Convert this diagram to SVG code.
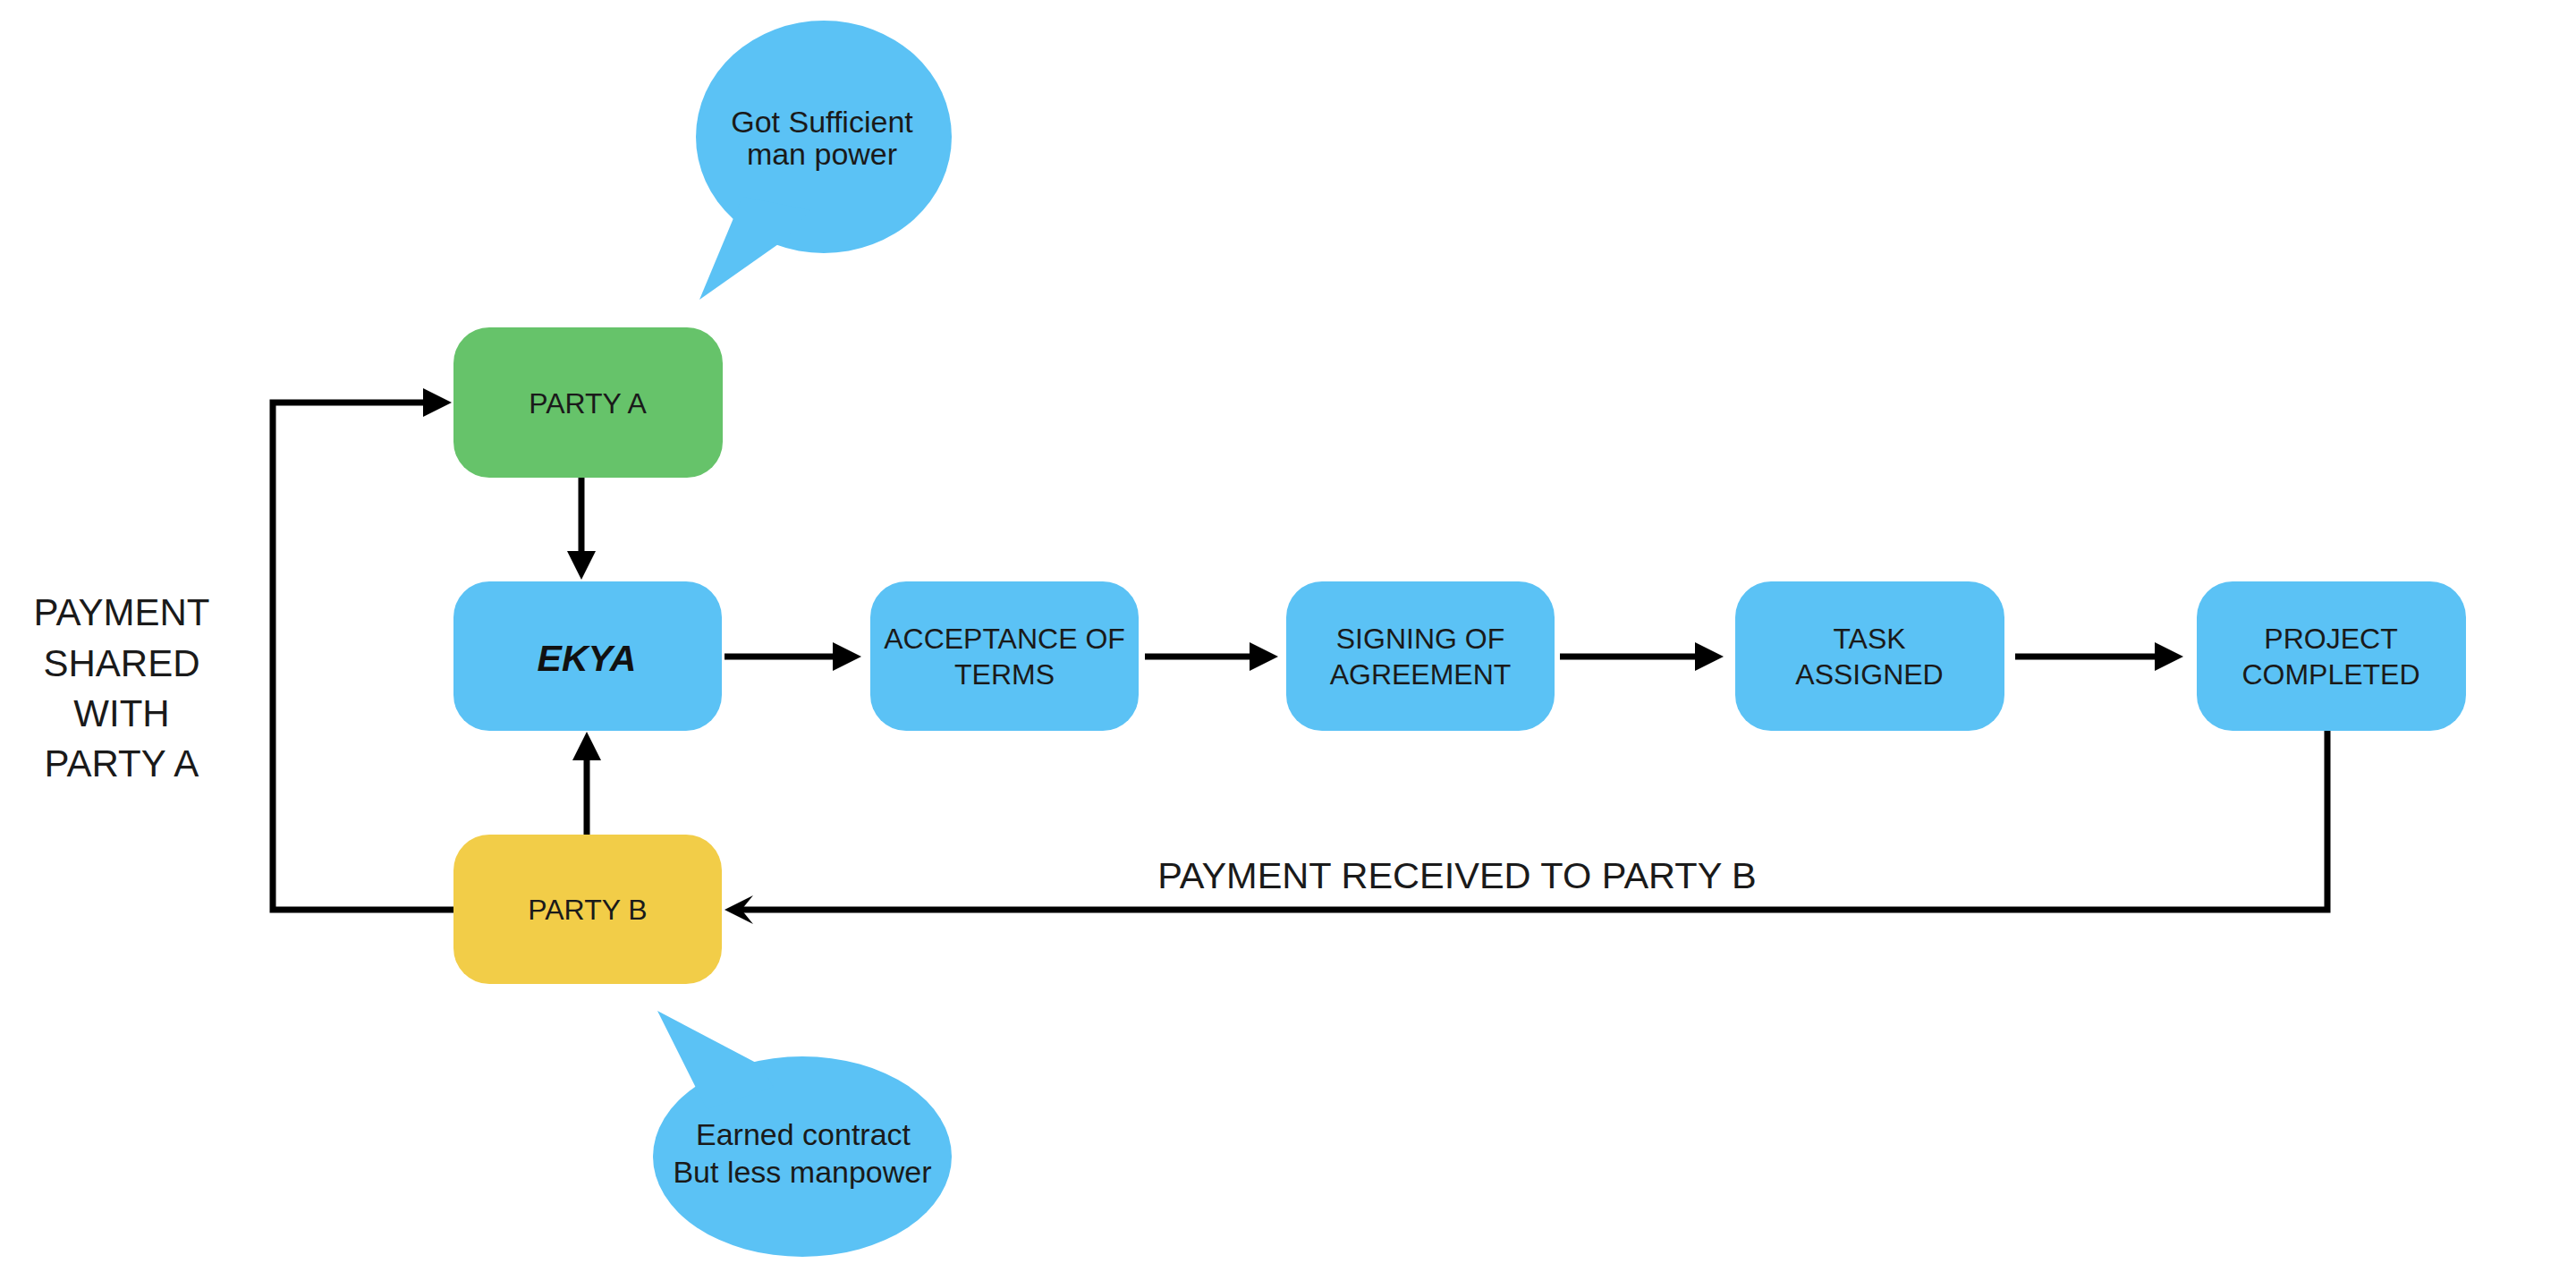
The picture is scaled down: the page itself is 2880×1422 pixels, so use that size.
<svg xmlns="http://www.w3.org/2000/svg" width="2880" height="1422" viewBox="0 0 2880 1422">
<style>
  .box-blue { fill: #5BC2F5; }
  .box-green { fill: #66C36A; }
  .box-yellow { fill: #F2CD48; }
  .bubble { fill: #5BC2F5; }
  .lbl { font-family: "Liberation Sans", Arial, sans-serif; font-size: 32px; fill: #1a1a1a; text-anchor: middle; }
  .ekya { font-family: "Liberation Sans", Arial, sans-serif; font-size: 41px; font-weight: bold; font-style: italic; fill: #111; text-anchor: middle; }
  .btxt { font-family: "Liberation Sans", Arial, sans-serif; font-size: 34px; fill: #1a1a1a; text-anchor: middle; }
  .side { font-family: "Liberation Sans", Arial, sans-serif; font-size: 42px; fill: #1a1a1a; text-anchor: middle; }
  .conn { fill: none; stroke: #000; stroke-width: 7; stroke-linejoin: miter; }
  .head { fill: #000; }
</style>
<rect width="2880" height="1422" fill="#ffffff"/>

<g id="connectors">
  <!-- PARTY B -> loop -> PARTY A -->
  <path class="conn" d="M507,1017 H305 V450 H478"/>
  <polygon class="head" points="505,450 473,434 473,466"/>
  <!-- PARTY A -> EKYA -->
  <path class="conn" d="M650,534 V622"/>
  <polygon class="head" points="650,648 634,616 666,616"/>
  <!-- PARTY B -> EKYA -->
  <path class="conn" d="M656,935 V845"/>
  <polygon class="head" points="656,818 640,850 672,850"/>
  <!-- EKYA -> ACCEPTANCE -->
  <path class="conn" d="M810,734 H936"/>
  <polygon class="head" points="963,734 931,718 931,750"/>
  <!-- ACCEPTANCE -> SIGNING -->
  <path class="conn" d="M1280,734 H1402"/>
  <polygon class="head" points="1429,734 1397,718 1397,750"/>
  <!-- SIGNING -> TASK -->
  <path class="conn" d="M1744,734 H1900"/>
  <polygon class="head" points="1927,734 1895,718 1895,750"/>
  <!-- TASK -> PROJECT -->
  <path class="conn" d="M2253,734 H2414"/>
  <polygon class="head" points="2441,734 2409,718 2409,750"/>
  <!-- PROJECT -> PARTY B -->
  <path class="conn" d="M2602,817 V1017 H828"/>
  <polygon class="head" points="810,1017 842,1001 829,1017 842,1033"/>
  <text class="side" x="1629" y="993" font-size="41.5" style="font-size:41.5px">PAYMENT RECEIVED TO PARTY B</text>
</g>

<g id="label-payment-shared">
  <text class="side" x="136" y="699">PAYMENT</text>
  <text class="side" x="136" y="756">SHARED</text>
  <text class="side" x="136" y="812">WITH</text>
  <text class="side" x="136" y="868">PARTY A</text>
</g>

<g id="bubble-top">
  <ellipse class="bubble" cx="921" cy="153" rx="143" ry="130"/>
  <polygon class="bubble" points="830,220 782,335 880,266 905,235"/>
  <text class="btxt" x="919" y="148">Got Sufficient</text>
  <text class="btxt" x="919" y="184">man power</text>
</g>

<g id="bubble-bottom">
  <ellipse class="bubble" cx="897" cy="1293" rx="167" ry="112"/>
  <polygon class="bubble" points="735,1130 849,1190 865,1215 790,1240"/>
  <text class="btxt" x="898" y="1280">Earned contract</text>
  <text class="btxt" x="897" y="1322">But less manpower</text>
</g>

<g id="party-a">
  <rect class="box-green" x="507" y="366" width="301" height="168" rx="40" ry="40"/>
  <text class="lbl" x="657" y="462">PARTY A</text>
</g>

<g id="ekya">
  <rect class="box-blue" x="507" y="650" width="300" height="167" rx="40" ry="40"/>
  <text class="ekya" x="656" y="750">EKYA</text>
</g>

<g id="party-b">
  <rect class="box-yellow" x="507" y="933" width="300" height="167" rx="40" ry="40"/>
  <text class="lbl" x="657" y="1028">PARTY B</text>
</g>

<g id="acceptance">
  <rect class="box-blue" x="973" y="650" width="300" height="167" rx="40" ry="40"/>
  <text class="lbl" x="1123" y="725">ACCEPTANCE OF</text>
  <text class="lbl" x="1123" y="765">TERMS</text>
</g>

<g id="signing">
  <rect class="box-blue" x="1438" y="650" width="300" height="167" rx="40" ry="40"/>
  <text class="lbl" x="1588" y="725">SIGNING OF</text>
  <text class="lbl" x="1588" y="765">AGREEMENT</text>
</g>

<g id="task">
  <rect class="box-blue" x="1940" y="650" width="301" height="167" rx="40" ry="40"/>
  <text class="lbl" x="2090" y="725">TASK</text>
  <text class="lbl" x="2090" y="765">ASSIGNED</text>
</g>

<g id="project">
  <rect class="box-blue" x="2456" y="650" width="301" height="167" rx="40" ry="40"/>
  <text class="lbl" x="2606" y="725">PROJECT</text>
  <text class="lbl" x="2606" y="765">COMPLETED</text>
</g>
</svg>
